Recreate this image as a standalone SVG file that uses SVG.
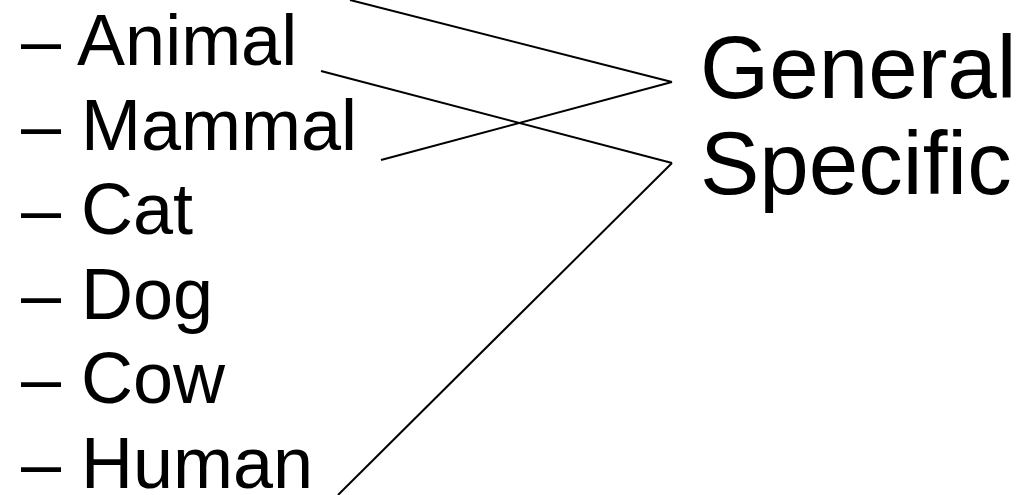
<svg xmlns="http://www.w3.org/2000/svg" width="1028" height="495" viewBox="0 0 1028 495">
<style>
.t{font-family:"Liberation Sans",Arial,sans-serif;font-size:72px;fill:#000}
.r{font-family:"Liberation Sans",Arial,sans-serif;font-size:89px;fill:#000}
.c{stroke:#000;stroke-width:2;fill:none}
</style>
<rect width="1028" height="495" fill="#fff"/>
<g id="items">
<g id="animal"><text class="t" x="21" y="65">– Animal</text></g>
<g id="mammal"><text class="t" x="21" y="150">– Mammal</text></g>
<g id="cat"><text class="t" x="21" y="234">– Cat</text></g>
<g id="dog"><text class="t" x="21" y="319">– Dog</text></g>
<g id="cow"><text class="t" x="21" y="403">– Cow</text></g>
<g id="human"><text class="t" x="21" y="488">– Human</text></g>
</g>
<g id="general"><text class="r" x="700" y="98">General</text></g>
<g id="specific"><text class="r" x="700" y="194">Specific</text></g>
<g id="connectors">
<line class="c" x1="350" y1="0" x2="672" y2="82"/>
<line class="c" x1="381" y1="160" x2="672" y2="82"/>
<line class="c" x1="321" y1="71" x2="672" y2="163"/>
<line class="c" x1="672" y1="163" x2="338" y2="495"/>
</g>
</svg>
